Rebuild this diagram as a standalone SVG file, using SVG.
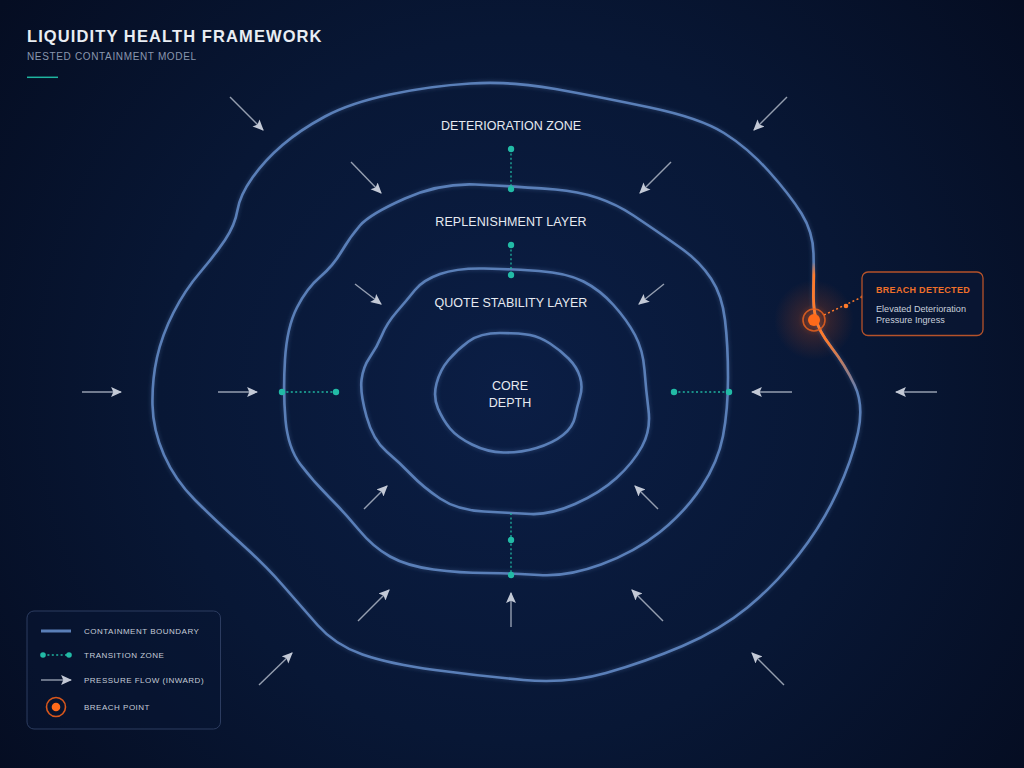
<svg xmlns="http://www.w3.org/2000/svg" width="1024" height="768" viewBox="0 0 1024 768">
  <defs>
    <radialGradient id="bg" cx="512" cy="390" r="640" gradientUnits="userSpaceOnUse">
      <stop offset="0" stop-color="#0b1e45"/>
      <stop offset="0.55" stop-color="#081735"/>
      <stop offset="1" stop-color="#050d22"/>
    </radialGradient>
    <radialGradient id="breachGlow" cx="814" cy="320" r="40" gradientUnits="userSpaceOnUse">
      <stop offset="0" stop-color="#ff6a1f" stop-opacity="0.5"/>
      <stop offset="0.4" stop-color="#ff5a10" stop-opacity="0.16"/>
      <stop offset="1" stop-color="#ff5a10" stop-opacity="0"/>
    </radialGradient>
    <linearGradient id="breachSeg" x1="0" y1="262" x2="0" y2="392" gradientUnits="userSpaceOnUse">
      <stop offset="0" stop-color="#ff7a2a" stop-opacity="0"/>
      <stop offset="0.1" stop-color="#ff7a2a" stop-opacity="1"/>
      <stop offset="0.6" stop-color="#ff7a2a" stop-opacity="1"/>
      <stop offset="1" stop-color="#ff7a2a" stop-opacity="0"/>
    </linearGradient>
    <filter id="glow" x="-10%" y="-10%" width="120%" height="120%">
      <feGaussianBlur in="SourceGraphic" stdDeviation="2" result="b"/>
      <feComponentTransfer in="b" result="bf"><feFuncA type="linear" slope="0.45"/></feComponentTransfer>
      <feMerge><feMergeNode in="bf"/><feMergeNode in="SourceGraphic"/></feMerge>
    </filter>
    <marker id="ah" viewBox="0 0 10 10" refX="9" refY="5" markerWidth="11" markerHeight="11" markerUnits="userSpaceOnUse" orient="auto">
      <path d="M0,0.5 L10,5 L0,9.5 L2,5 Z" fill="#c3c9d6"/>
    </marker>
    <style>
      .ring{fill:none;stroke:#5a7fb8;stroke-width:2.6;stroke-linejoin:round}
      .tz{stroke:#1fb5a0;stroke-width:1.3;stroke-dasharray:2 2.4;fill:none}
      .dot{fill:#22bba6}
      .arr{stroke:#aeb6c6;stroke-width:1.4;stroke-opacity:0.85;fill:none;marker-end:url(#ah)}
      .lbl{font-family:"Liberation Sans",Arial,sans-serif;font-size:12.5px;fill:#e6eaf1;text-anchor:middle}
      .leg{font-family:"Liberation Sans",Arial,sans-serif;font-size:8px;fill:#c5ccd8;letter-spacing:0.5px}
    </style>
  </defs>

  <rect x="0" y="0" width="1024" height="768" fill="url(#bg)"/>

  <g id="title">
    <text x="27" y="41.5" font-family="'Liberation Sans',Arial,sans-serif" font-size="16.5" font-weight="bold" fill="#e9edf3" letter-spacing="1.1">LIQUIDITY HEALTH FRAMEWORK</text>
    <text x="27" y="60" font-family="'Liberation Sans',Arial,sans-serif" font-size="10" fill="#8a97ae" letter-spacing="0.65">NESTED CONTAINMENT MODEL</text>
    <line x1="27" y1="77.3" x2="58" y2="77.3" stroke="#1fb5a0" stroke-width="1.5"/>
  </g>

  <g id="breach-glow">
    <circle cx="814" cy="320" r="40" fill="url(#breachGlow)"/>
  </g>

  <g id="deterioration-zone">
    <path class="ring" filter="url(#glow)" d="M 470.5 83.5 Q 511 81 555.5 89 Q 600 97 650 107.5 Q 700 118 724 133 Q 748 148 769 171.5 Q 790 195 801.5 213.5 Q 813 232 813.5 253.5 Q 814 275 813.5 290 Q 813 305 815.5 317.5 Q 818 330 831.5 347.5 Q 845 365 854.5 385 Q 864 405 858 432.5 Q 852 460 837 492.5 Q 822 525 798.5 555 Q 775 585 747.5 607.5 Q 720 630 682.5 646 Q 645 662 606 673 Q 567 684 523.5 680 Q 480 676 435 670 Q 390 664 362.5 654.5 Q 335 645 317.5 625 Q 300 605 282.5 585 Q 265 565 240 542.5 Q 215 520 195 500 Q 175 480 164 455 Q 153 430 152.5 405 Q 152 380 157 357.5 Q 162 335 173.5 312.5 Q 185 290 200 272.5 Q 215 255 225 240 Q 235 225 237.5 210 Q 240 195 252.5 177.5 Q 265 160 282.5 145 Q 300 130 325 116.5 Q 350 103 390 94.5 Q 430 86 470.5 83.5 Z"/>
    <path fill="none" stroke="url(#breachSeg)" stroke-width="2.8" d="M 813.6 262 Q 814 275 813.5 290 Q 813 305 815.5 317.5 Q 818 330 831.5 347.5 Q 845 365 854.5 385 L 857 392"/>
    <text class="lbl" x="511" y="130">DETERIORATION ZONE</text>
  </g>

  <g id="replenishment-layer">
    <path class="ring" filter="url(#glow)" d="M 475.5 184.5 Q 511 186 555.5 189.5 Q 600 193 633.5 215.5 Q 667 238 683.5 250 Q 700 262 711 278.5 Q 722 295 725 320 Q 728 345 728 377.5 Q 728 410 723 436 Q 718 462 701.5 487 Q 685 512 660 532 Q 635 552 601 564.5 Q 567 577 539 575 Q 511 573 485.5 573 Q 460 573 433.5 569.5 Q 407 566 390 556.5 Q 373 547 359 530 Q 345 513 329 497 Q 313 481 300.5 464.5 Q 288 448 285.5 420 Q 283 392 285 359.5 Q 287 327 297 307.5 Q 307 288 320 277 Q 333 266 341.5 251.5 Q 350 237 360 225.5 Q 370 214 405 198.5 Q 440 183 475.5 184.5 Z"/>
    <text class="lbl" x="511" y="226" letter-spacing="0.1">REPLENISHMENT LAYER</text>
  </g>

  <g id="quote-stability-layer">
    <path class="ring" filter="url(#glow)" d="M 484 268.5 Q 511 269 539 271 Q 567 273 583.5 281.5 Q 600 290 613.5 305 Q 627 320 635 335 Q 643 350 644.5 370 Q 646 390 648.5 410 Q 651 430 642 446.5 Q 633 463 616.5 478 Q 600 493 575 504 Q 550 515 530.5 514 Q 511 513 484 511.5 Q 457 510 440 498.5 Q 423 487 411.5 475 Q 400 463 386.5 451.5 Q 373 440 366.5 416.5 Q 360 393 361.5 380 Q 363 367 370 357 Q 377 347 382 335 Q 387 323 397 311.5 Q 407 300 415 290 Q 423 280 440 274 Q 457 268 484 268.5 Z"/>
    <text class="lbl" x="511" y="306.5">QUOTE STABILITY LAYER</text>
  </g>

  <g id="core-depth">
    <path class="ring" filter="url(#glow)" d="M 500 333 Q 520 333 530 335 Q 540 337 550 343.5 Q 560 350 568.5 358.5 Q 577 367 580 377 Q 583 387 580 397 Q 577 407 575 417 Q 573 427 563 435 Q 553 443 536.5 448 Q 520 453 503.5 452.5 Q 487 452 472 444.5 Q 457 437 450 428.5 Q 443 420 438 408.5 Q 433 397 436.5 383.5 Q 440 370 448.5 360 Q 457 350 468.5 341.5 Q 480 333 500 333 Z"/>
    <text class="lbl" x="510" y="390" font-size="12">CORE</text>
    <text class="lbl" x="510" y="406.5" font-size="12">DEPTH</text>
  </g>

  <g id="transition-zones">
    <line class="tz" x1="511" y1="149" x2="511" y2="188"/>
    <circle class="dot" cx="511" cy="149" r="3.2"/>
    <circle class="dot" cx="511" cy="189" r="3.2"/>
    <line class="tz" x1="511" y1="245" x2="511" y2="274"/>
    <circle class="dot" cx="511" cy="245" r="3.2"/>
    <circle class="dot" cx="511" cy="275" r="3.2"/>
    <line class="tz" x1="282" y1="392" x2="336" y2="392"/>
    <circle class="dot" cx="282" cy="392" r="3.2"/>
    <circle class="dot" cx="336" cy="392" r="3.2"/>
    <line class="tz" x1="674" y1="392" x2="729" y2="392"/>
    <circle class="dot" cx="674" cy="392" r="3.2"/>
    <circle class="dot" cx="729" cy="392" r="3.2"/>
    <line class="tz" x1="511" y1="513" x2="511" y2="575"/>
    <circle class="dot" cx="511" cy="540" r="3.2"/>
    <circle class="dot" cx="511" cy="575" r="3.2"/>
  </g>

  <g id="connectors">
    <line class="arr" x1="230" y1="97" x2="263" y2="130"/>
    <line class="arr" x1="351" y1="162" x2="381" y2="193"/>
    <line class="arr" x1="355" y1="284" x2="381" y2="304"/>
    <line class="arr" x1="82" y1="392" x2="121" y2="392"/>
    <line class="arr" x1="218" y1="392" x2="257" y2="392"/>
    <line class="arr" x1="787" y1="97" x2="754" y2="130"/>
    <line class="arr" x1="671" y1="162" x2="640" y2="193"/>
    <line class="arr" x1="664" y1="284" x2="639" y2="304"/>
    <line class="arr" x1="792" y1="392" x2="752" y2="392"/>
    <line class="arr" x1="937" y1="392" x2="896" y2="392"/>
    <line class="arr" x1="364" y1="509" x2="387" y2="486"/>
    <line class="arr" x1="358" y1="621" x2="389" y2="590"/>
    <line class="arr" x1="259" y1="685" x2="292" y2="653"/>
    <line class="arr" x1="511" y1="627" x2="511" y2="593"/>
    <line class="arr" x1="658" y1="509" x2="635" y2="486"/>
    <line class="arr" x1="663" y1="621" x2="632" y2="590"/>
    <line class="arr" x1="784" y1="685" x2="752" y2="653"/>
    <line x1="824" y1="315" x2="862" y2="297" stroke="#ff7a2a" stroke-width="1.5" stroke-dasharray="2 2.5"/>
    <circle cx="846" cy="306" r="2.3" fill="#ff7a2a"/>
    <circle cx="862" cy="297" r="1.4" fill="#ff7a2a"/>
  </g>

  <g id="breach-point">
    <circle cx="814" cy="320" r="11" fill="none" stroke="#e8621f" stroke-width="1.6" stroke-opacity="0.85"/>
    <circle cx="814" cy="320" r="6" fill="#ff6a1a"/>
  </g>

  <g id="breach-callout">
    <rect x="862" y="272" width="121" height="63.5" rx="6" fill="#0a1633" fill-opacity="0.9" stroke="#b5522a" stroke-width="1.3"/>
    <text x="876" y="293" font-family="'Liberation Sans',Arial,sans-serif" font-size="9" font-weight="bold" fill="#f0702a" letter-spacing="0.3">BREACH DETECTED</text>
    <text x="876" y="311.5" font-family="'Liberation Sans',Arial,sans-serif" font-size="9.1" fill="#c8cfdb">Elevated Deterioration</text>
    <text x="876" y="322.5" font-family="'Liberation Sans',Arial,sans-serif" font-size="9.1" fill="#c8cfdb">Pressure Ingress</text>
  </g>

  <g id="legend">
    <rect x="27" y="611" width="193.5" height="118" rx="7" fill="#081633" fill-opacity="0.5" stroke="#2c3c60" stroke-width="1"/>
    <line x1="41" y1="631" x2="71" y2="631" stroke="#5a7fb8" stroke-width="3"/>
    <text class="leg" x="84" y="634">CONTAINMENT BOUNDARY</text>
    <line class="tz" x1="43" y1="655" x2="69" y2="655"/>
    <circle class="dot" cx="43" cy="655" r="2.8"/>
    <circle class="dot" cx="69" cy="655" r="2.8"/>
    <text class="leg" x="84" y="658">TRANSITION ZONE</text>
    <line class="arr" x1="41" y1="680" x2="71" y2="680"/>
    <text class="leg" x="84" y="683">PRESSURE FLOW (INWARD)</text>
    <circle cx="56" cy="707" r="9.5" fill="none" stroke="#d8571c" stroke-width="1.6"/>
    <circle cx="56" cy="707" r="4.3" fill="#ff6a1a"/>
    <text class="leg" x="84" y="710">BREACH POINT</text>
  </g>
</svg>
